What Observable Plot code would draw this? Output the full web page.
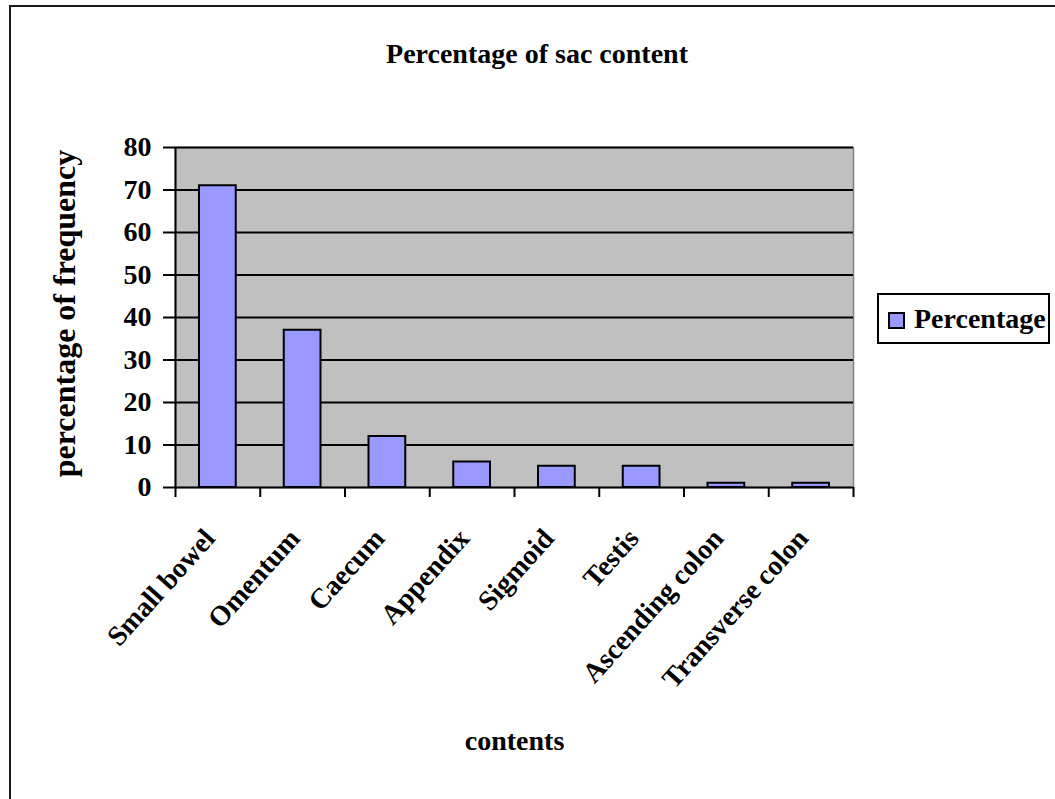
<!DOCTYPE html>
<html>
<head>
<meta charset="utf-8">
<script src="https://cdn.jsdelivr.net/npm/d3@7"></script>
<script src="https://cdn.jsdelivr.net/npm/@observablehq/plot@0.6"></script>
<style>
  html, body { margin: 0; padding: 0; background: #fff; }
  body { width: 1055px; height: 799px; position: relative; overflow: hidden;
         font-family: "Liberation Serif", "Times New Roman", serif; }
  #border { position: absolute; left: 9px; top: 5px; width: 1060px; height: 820px;
            border-left: 2px solid #1a1a1a; border-top: 2px solid #1a1a1a; }
  #title { position: absolute; left: 0; top: 38px; width: 1074px; text-align: center;
           font-weight: bold; font-size: 28px; color: #000; }
  #chart { position: absolute; left: 0; top: 0; }
  #legend { position: absolute; left: 877px; top: 293px; width: 169px; height: 47px;
            border: 2px solid #000; background: #fff; }
  #legend .sw { position: absolute; left: 9px; top: 17px; width: 13px; height: 13px;
                border: 2px solid #000; background: #9999ff; }
  #legend .lb { position: absolute; left: 35px; top: 8px; font-weight: bold; font-size: 28px;
                line-height: 32px; color: #000; }
</style>
</head>
<body>
<div id="border"></div>
<div id="chart"></div>
<div id="title">Percentage of sac content</div>
<div id="legend"><div class="sw"></div><div class="lb">Percentage</div></div>
<script>
const categories = ["Small bowel", "Omentum", "Caecum", "Appendix", "Sigmoid", "Testis", "Ascending colon", "Transverse colon"];
const percentages = [71, 37, 12, 6, 5, 5, 1, 1];
const yTicks = [0, 10, 20, 30, 40, 50, 60, 70, 80];
const seriesName = "Percentage";

const data = categories.map((c, i) => ({category: c, index: i, value: percentages[i]}));
const boundaries = d3.range(categories.length + 1);

const plot = Plot.plot({
  width: 1055,
  height: 799,
  marginLeft: 175,
  marginRight: 202,
  marginTop: 147,
  marginBottom: 312,
  style: {fontFamily: "Liberation Serif, Times New Roman, serif", background: "transparent"},
  x: {domain: [0, categories.length], axis: null},
  y: {domain: [0, 80], axis: null},
  marks: [
    Plot.frame({fill: "#c0c0c0", stroke: "#808080", strokeWidth: 1.5}),
    Plot.ruleY(yTicks, {stroke: "#000", strokeWidth: 2}),
    Plot.rectY(data, {x1: "index", x2: d => d.index + 1, y1: 0, y2: "value",
      insetLeft: 24, insetRight: 24, fill: "#9999ff", stroke: "#000", strokeWidth: 2}),
    Plot.ruleX([0], {stroke: "#000", strokeWidth: 2}),
    Plot.axisY({ticks: yTicks, tickSize: 12, tickPadding: 12, tickFormat: d3.format("d"),
      fontSize: 28, fontWeight: "bold", label: null, stroke: "#000", strokeWidth: 2}),
    Plot.axisX({ticks: boundaries, tickSize: 10, tickFormat: () => "", label: null,
      stroke: "#000", strokeWidth: 2}),
    Plot.text(data, {x: d => d.index + 0.5, y: 0, text: "category", rotate: -48,
      textAnchor: "end", dx: -8, dy: 46, fontSize: 28, fontWeight: "bold", fill: "#000"}),
    Plot.text(["percentage of frequency"], {frameAnchor: "left", textAnchor: "middle", rotate: -90, dx: -111, dy: -4,
      fontSize: 32, fontWeight: "bold", fill: "#000"}),
    Plot.text(["contents"], {frameAnchor: "bottom", dy: 262,
      fontSize: 28, fontWeight: "bold", fill: "#000"})
  ]
});
document.getElementById("chart").appendChild(plot);
document.querySelector("#legend .lb").textContent = seriesName;
</script>
</body>
</html>
